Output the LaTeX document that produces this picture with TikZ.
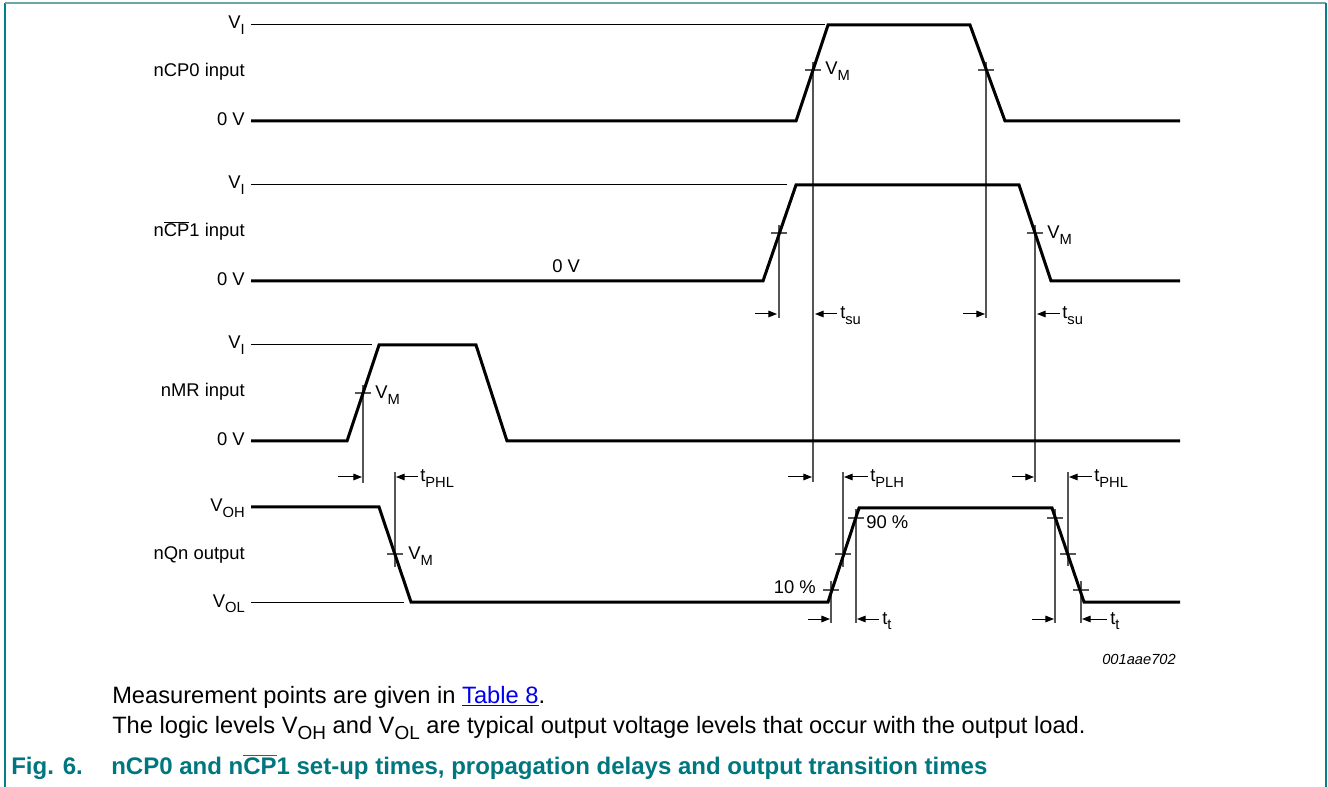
\documentclass[tikz,border=0pt]{standalone}
\usepackage{fontspec}
\setmainfont{Liberation Sans}
\usetikzlibrary{arrows.meta}
\definecolor{tealcap}{RGB}{0,118,126}
\definecolor{tealframe}{RGB}{0,128,136}
\definecolor{tealtop}{RGB}{110,165,170}
\definecolor{gline}{RGB}{85,85,85}
\definecolor{linkblue}{RGB}{0,0,238}
\makeatletter
\newcommand\sbs[1]{\raisebox{-0.28em}{\fontsize{\strip@pt\dimexpr\f@size pt*80/100\relax}{1}\selectfont #1}}
\makeatother
\newcommand\ovl[1]{$\overline{\hbox{#1}}$}
\tikzset{
  sig/.style={line width=2.25pt, line join=miter, black},
  thinl/.style={line width=0.75pt, black},
  mline/.style={line width=0.8pt, gline},
  lab/.style={font=\fontsize{13.8}{16}\selectfont, inner sep=0pt},
  llab/.style={lab, anchor=base east},
  rlab/.style={lab, anchor=base west},
  dimarr/.style={-{Triangle[length=6.5pt,width=5pt]}, line width=0.75pt, black},
  captxt/.style={font=\fontsize{17.75}{20}\selectfont, inner sep=0pt, anchor=base west},
  capbold/.style={font=\fontsize{18}{20}\selectfont\bfseries, text=tealcap, inner sep=0pt, anchor=base west},
}
\newcommand\crs[2]{\draw[mline] ({#1-8},#2) -- ({#1+8},#2);}
\newcommand\arr[3]{\draw[dimarr] (#1,#3) -- (#2,#3);}
\begin{document}
\begin{tikzpicture}[x=0.75pt,y=-0.75pt]
\useasboundingbox (0,0) rectangle (1328,787);
% frame
\draw[tealframe, line width=1.2pt] (5,787) -- (5,3);
\draw[tealtop, line width=1.2pt] (5,3) -- (1326,3);
\draw[tealframe, line width=1.8pt] (1326,3) -- (1326,787);

% left labels
\node[llab] (vi1) at (245,29) {V\sbs{I}};
\node[llab] (in1) at (245,77) {nCP0 input};
\node[llab] (zv1) at (245,126) {0 V};
\node[llab] (vi2) at (245,189) {V\sbs{I}};
\node[llab] (in2) at (245,237) {n\ovl{CP}1 input};
\node[llab] (zv2) at (245,286) {0 V};
\node[llab] (vi3) at (245,349) {V\sbs{I}};
\node[llab] (in3) at (245,397) {nMR input};
\node[llab] (zv3) at (245,446) {0 V};
\node[llab] (voh) at (245,512) {V\sbs{OH}};
\node[llab] (out) at (245,560) {nQn output};
\node[llab] (vol) at (245,607) {V\sbs{OL}};

% reference level lines
\draw[thinl] (251,25) -- (825,25);
\draw[thinl] (251,185) -- (787,185);
\draw[thinl] (251,345) -- (372,345);
\draw[thinl] (251,602) -- (404,602);

% measurement lines
\draw[mline] (813,62) -- (813,482);
\draw[mline] (986,62) -- (986,318);
\draw[mline] (779,225) -- (779,318);
\draw[mline] (1035,225) -- (1035,482);
\draw[mline] (363,385) -- (363,483);
\draw[mline] (395,472) -- (395,567);
\draw[mline] (843,472) -- (843,567);
\draw[mline] (831,581) -- (831,623);
\draw[mline] (856,509) -- (856,623);
\draw[mline] (1055,509) -- (1055,623);
\draw[mline] (1068,472) -- (1068,566);
\draw[mline] (1081,581) -- (1081,623);

% crosses
\crs{813}{70}
\crs{986}{70}
\crs{779}{233}
\crs{1035}{233}
\crs{363}{393}
\crs{395}{554}
\crs{831}{590}
\crs{843}{554}
\crs{856}{518}
\crs{1055}{518}
\crs{1068}{554}
\crs{1081}{590}

% waveforms
\draw[sig] (251,121) -- (796,121) -- (828,25) -- (970,25) -- (1005,121) -- (1180,121);
\draw[sig] (251,281) -- (763,281) -- (796,185) -- (1019,185) -- (1051,281) -- (1180,281);
\draw[sig] (251,441) -- (347,441) -- (379,345) -- (476,345) -- (507,441) -- (1180,441);
\draw[sig] (251,507) -- (379,507) -- (411,602) -- (828,602) -- (859,508) -- (1052,508) -- (1084,602) -- (1180,602);

% VM labels
\node[rlab] (vm1) at (825,75) {V\sbs{M}};
\node[rlab] (vm2) at (1047,239) {V\sbs{M}};
\node[rlab] (vm3) at (375,399) {V\sbs{M}};
\node[rlab] (vm4) at (408,560) {V\sbs{M}};
\node[rlab] (zvm) at (552,273) {0 V};
\node[rlab] (p90) at (866,529) {90 \%};
\node[llab] (p10) at (816,594) {10 \%};

% dimension arrows: set-up times
\arr{755}{777}{314}
\arr{837}{815}{314}
\node[rlab] (tsu1) at (840,319) {t\sbs{su}};
\arr{963}{985}{314}
\arr{1060}{1037}{314}
\node[rlab] (tsu2) at (1062,319) {t\sbs{su}};

% propagation delays
\arr{338}{362}{477}
\arr{418}{396}{477}
\node[rlab] (tphl1) at (420,482) {t\sbs{PHL}};
\arr{788}{812}{477}
\arr{868}{844}{477}
\node[rlab] (tplh) at (870,482) {t\sbs{PLH}};
\arr{1012}{1034}{477}
\arr{1092}{1069}{477}
\node[rlab] (tphl2) at (1094,482) {t\sbs{PHL}};

% transition times
\arr{808}{830}{619}
\arr{879}{857}{619}
\node[rlab] (tt1) at (882,624) {t\sbs{t}};
\arr{1032}{1054}{619}
\arr{1107}{1082}{619}
\node[rlab] (tt2) at (1110,624) {t\sbs{t}};

% figure id
\node[font=\fontsize{11}{13}\selectfont\itshape, inner sep=0pt, anchor=base east] (fid) at (1176,664) {001aae702};

% caption
\node[captxt] (c1) at (112,703) {Measurement points are given in \textcolor{linkblue}{\underline{Table 8}}.};
\node[captxt] (c2) at (112,733) {The logic levels V\sbs{OH} and V\sbs{OL} are typical output voltage levels that occur with the output load.};
\node[capbold] (fig) at (11,774) {Fig. 6.};
\node[capbold] (ftitle) at (111,774) {nCP0 and n\ovl{CP}1 set-up times, propagation delays and output transition times};
\end{tikzpicture}
\end{document}
